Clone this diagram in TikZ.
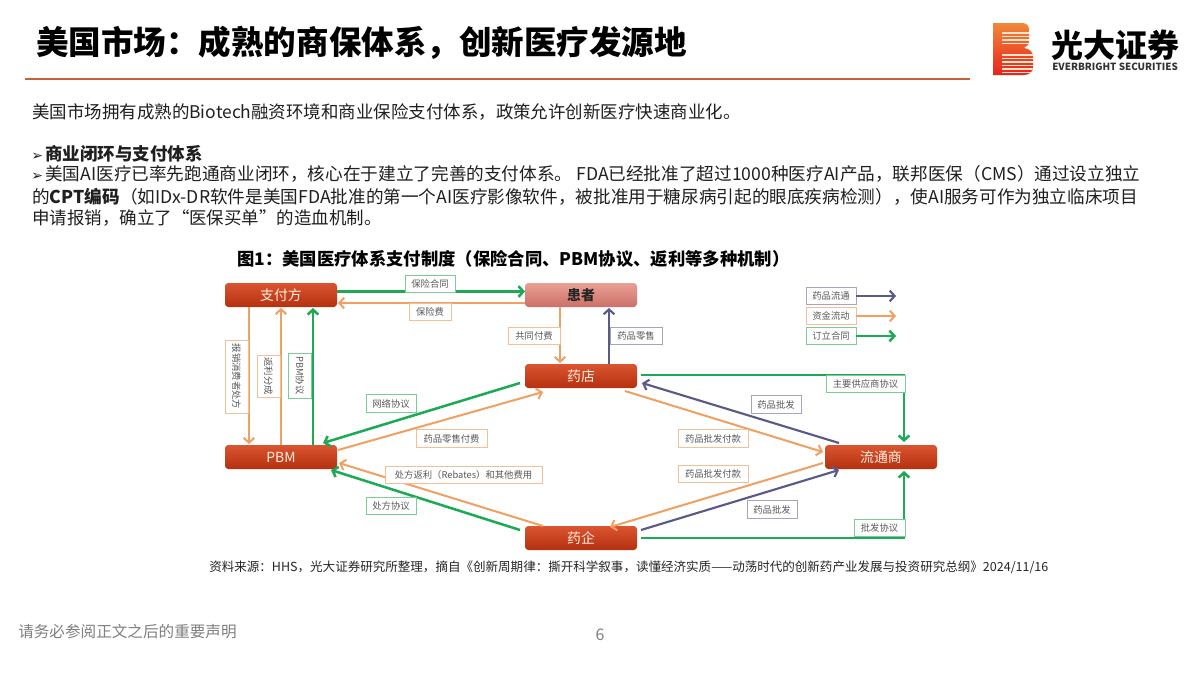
\documentclass[tikz,border=0pt]{standalone}
\usepackage{fontspec}
\setmainfont{Noto Sans CJK SC}
\newfontfamily\dv{DejaVu Sans}
\usetikzlibrary{arrows.meta,calc}
\definecolor{cgreen}{HTML}{1DAA55}
\definecolor{corange}{HTML}{F0A060}
\definecolor{cpurple}{HTML}{5A5A88}
\definecolor{lgreen}{HTML}{7CCB9A}
\definecolor{lorange}{HTML}{F5BE94}
\definecolor{lpurple}{HTML}{A5A5BC}
\definecolor{rulec}{HTML}{C4623E}
\definecolor{redt}{HTML}{DA5430}
\definecolor{redb}{HTML}{B5300F}
\definecolor{pinkt}{HTML}{E9A096}
\definecolor{pinkb}{HTML}{CC7068}
\definecolor{logot}{HTML}{F0883A}
\definecolor{logob}{HTML}{E8201C}
\newcommand{\bul}{\makebox[9.8pt][l]{\dv\fontsize{10.5}{11}\selectfont\hspace{-0.6pt}➢}}
\tikzset{
 x=0.75pt,y=-0.75pt,
 bw/.style={minimum width=#1*0.75pt},
 bh/.style={minimum height=#1*0.75pt},
 actor/.style={rectangle,rounded corners=2.5pt,bw=112,bh=24,inner sep=0pt,
   font=\fontsize{10.4}{12}\selectfont,text=white!88!orange},
 red actor/.style={actor,top color=redt,bottom color=redb},
 lab/.style={rectangle,draw=#1,line width=0.6pt,fill=white,inner sep=0pt,bh=17.5,
   text=black!65,font=\fontsize{7}{8}\selectfont},
 txt/.style={anchor=west,inner sep=0pt,font=\fontsize{13.1}{15}\selectfont,text=black!88},
 txtb/.style={txt,font=\fontsize{13.22}{15}\selectfont},
 con/.style={-{Straight Barb[length=3.6pt,width=8pt]}},
 go/.style={con,draw=cgreen,line width=1.9pt},
 oo/.style={con,draw=corange,line width=1.5pt},
 po/.style={con,draw=cpurple,line width=1.6pt},
}
\begin{document}
\begin{tikzpicture}
\useasboundingbox (0,0) rectangle (1200,675);
\fill[white] (0,0) rectangle (1200,675);
% header
\node[txt,font=\fontsize{24.4}{28}\selectfont\bfseries,text=black] (title) at (36,43) {美国市场：成熟的商保体系，创新医疗发源地};
\draw[rulec,line width=2.2pt] (25,79) -- (970,79);
% logo
\begin{scope}
\clip (993,23) -- (1022,23) .. controls (1027,23) and (1029,26) .. (1029,30) -- (1029,41) .. controls (1029,45) and (1026,47) .. (1024,48) .. controls (1030,49) and (1033,52) .. (1033,57) -- (1033,67) .. controls (1033,72) and (1029,75) .. (1024,75) -- (993,75) -- cycle;
\shade[top color=logot,bottom color=logob] (993,23) rectangle (1033,76);
\foreach \yy in {32,35.5,39,42.5,54,57.5,61,64.5,68,71.5} \fill[white!80!orange] (1002,\yy) rectangle (1034,\yy+1.5);
\end{scope}
\node[inner sep=0pt,anchor=west,font=\fontsize{24}{26}\selectfont\bfseries,text=black] (lg1) at (1051,45) {光大证券};
\node[inner sep=0pt,anchor=west,font=\fontsize{7.4}{8}\selectfont\bfseries,text=black!80] (lg2) at (1052,67) {EVERBRIGHT SECURITIES};
% body text
\node[txt] (t1) at (32,112) {美国市场拥有成熟的Biotech融资环境和商业保险支付体系，政策允许创新医疗快速商业化。};
\node[txt] (t2) at (32,154) {\bul\textbf{商业闭环与支付体系}};
\node[txtb] (t3) at (32,174) {\bul 美国AI医疗已率先跑通商业闭环，核心在于建立了完善的支付体系。 FDA已经批准了超过1000种医疗AI产品，联邦医保（CMS）通过设立独立};
\node[txtb] (t4) at (32,197) {的\textbf{CPT编码}（如IDx-DR软件是美国FDA批准的第一个AI医疗影像软件，被批准用于糖尿病引起的眼底疾病检测），使AI服务可作为独立临床项目};
\node[txt] (t5) at (32,218) {申请报销，确立了“医保买单”的造血机制。};
\node[txt,font=\fontsize{13}{15}\selectfont\bfseries,text=black] (cap) at (237,259) {图1：美国医疗体系支付制度（保险合同、PBM协议、返利等多种机制）};
% actors
\node[red actor] (zf) at (281,295) {支付方};
\node[actor,top color=pinkt,bottom color=pinkb,text=black!85,font=\fontsize{10.4}{12}\selectfont\bfseries] (hz) at (581,295) {患者};
\node[red actor] (yd) at (581,376) {药店};
\node[red actor] (pbm) at (281,457) {PBM};
\node[red actor] (yq) at (581,538) {药企};
\node[red actor] (lt) at (881,457) {流通商};
% connectors
\draw[go] ($(zf)+(56,-3.5)$) -- ($(hz)+(-56,-3.5)$);
\draw[oo] ($(hz)+(-56,8)$) -- ($(zf)+(57,8)$);
\draw[oo] ($(zf)+(-32,12)$) -- ($(pbm)+(-32,-13)$);
\draw[oo] ($(pbm)+(0,-12)$) -- ($(zf)+(0,13)$);
\draw[go] ($(pbm)+(32,-12)$) -- ($(zf)+(32,13)$);
\draw[oo] ($(hz)+(-21,12)$) -- ($(yd)+(-21,-13)$);
\draw[po] ($(yd)+(28,-12)$) -- ($(hz)+(28,13)$);
\draw[go] ($(yd)+(-61,7)$) -- ($(pbm)+(42,-14)$);
\draw[oo] ($(pbm)+(57,-7)$) -- ($(yd)+(-38,16)$);
\draw[oo] ($(yq)+(-38,-12)$) -- ($(pbm)+(58,6)$);
\draw[go] ($(yq)+(-61,-8)$) -- ($(pbm)+(50,13)$);
\draw[go] ($(yd)+(60,-1)$) -| ($(lt)+(23,-15)$);
\draw[po] ($(lt)+(-42,-14)$) -- ($(yd)+(61,7)$);
\draw[oo] ($(yd)+(44,15)$) -- ($(lt)+(-58,-5)$);
\draw[oo] ($(lt)+(-58,6)$) -- ($(yq)+(29,-11)$);
\draw[po] ($(yq)+(60,-8)$) -- ($(lt)+(-42,13)$);
\draw[go] ($(yq)+(60,0)$) -| ($(lt)+(23,14)$);
% connector labels
\node[lab=lgreen,bw=50] (l1) at (430,284) {保险合同};
\node[lab=lorange,bw=42] (l2) at (430,312) {保险费};
\node[lab=lorange,bw=73,bh=23,rotate=-90] (l3) at (236.5,376.5) {报销消费者处方};
\node[lab=lorange,bw=42,bh=23,rotate=-90] (l4) at (268.5,376) {返利分成};
\node[lab=lgreen,bw=45,bh=23,rotate=-90] (l5) at (300,375.5) {PBM协议};
\node[lab=lorange,bw=52] (l6) at (534,336) {共同付费};
\node[lab=lpurple,bw=52] (l7) at (636,336) {药品零售};
\node[lab=lgreen,bw=50] (l8) at (391,403.5) {网络协议};
\node[lab=lorange,bw=71] (l9) at (451.5,438.5) {药品零售付费};
\node[lab=lorange,bw=157] (l10) at (463.5,475) {处方返利（Rebates）和其他费用};
\node[lab=lgreen,bw=50] (l11) at (391,506) {处方协议};
\node[lab=lpurple,bw=50] (l12) at (776,404.5) {药品批发};
\node[lab=lorange,bw=70] (l13) at (713,438.5) {药品批发付款};
\node[lab=lorange,bw=70] (l14) at (713,474) {药品批发付款};
\node[lab=lpurple,bw=50] (l15) at (772,509.5) {药品批发};
\node[lab=lgreen,bw=79] (l16) at (865.5,384) {主要供应商协议};
\node[lab=lgreen,bw=51] (l17) at (879.5,528) {批发协议};
% legend
\node[lab=lpurple,bw=50] (k1) at (831,296) {药品流通};
\node[lab=lorange,bw=50] (k2) at (831,316) {资金流动};
\node[lab=lgreen,bw=50] (k3) at (831,336) {订立合同};
\coordinate (k1e) at (896,296);
\coordinate (k2e) at (896,316);
\coordinate (k3e) at (896,336);
\draw[po] (k1) -- (k1e);
\draw[oo] (k2) -- (k2e);
\draw[go] (k3) -- (k3e);
% source
\node[txt,font=\fontsize{9.4}{11}\selectfont,text=black!85] (src) at (209,567) {资料来源：HHS，光大证券研究所整理，摘自《创新周期律：撕开科学叙事，读懂经济实质——动荡时代的创新药产业发展与投资研究总纲》2024/11/16};
% footer
\node[txt,font=\fontsize{11.7}{13}\selectfont,text=black!50] (foot) at (18,632) {请务必参阅正文之后的重要声明};
\node[inner sep=0pt,font=\fontsize{12}{14}\selectfont,text=black!50] (pg) at (600,635) {6};
\end{tikzpicture}
\end{document}
